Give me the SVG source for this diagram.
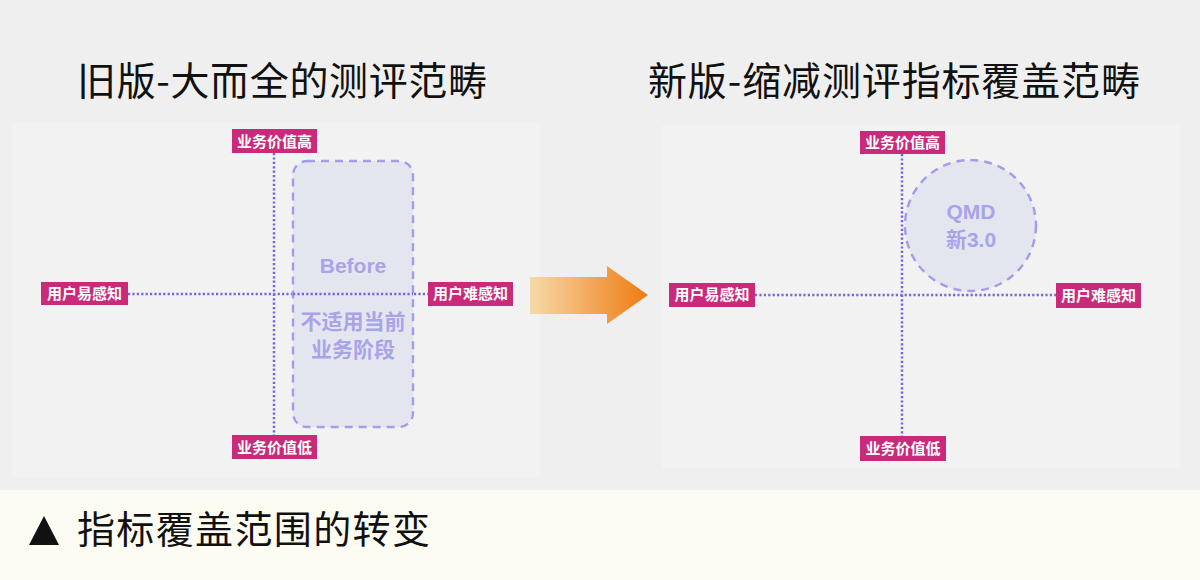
<svg xmlns="http://www.w3.org/2000/svg" width="1200" height="580" viewBox="0 0 1200 580">
<defs>
<style>
.title{font-family:"Noto Sans CJK SC","Noto Sans",sans-serif;font-size:39px;fill:#111;}
.lbl{fill:#c92a7a;}
.lt{font-family:"Noto Sans CJK SC","Noto Sans",sans-serif;font-size:15px;font-weight:700;fill:#fff;text-anchor:middle;}
.axis{stroke:#7f62e0;stroke-width:2.5;stroke-dasharray:2.2 2.2;fill:none;}
.zone{fill:#e3e6ef;stroke:#a49cea;stroke-width:2.4;stroke-dasharray:8 6;}
.zt{font-family:"Liberation Sans","Noto Sans CJK SC",sans-serif;font-size:21px;font-weight:700;fill:#a9a3e8;text-anchor:middle;}
.panel{fill:#f2f2f3;}
</style>
<linearGradient id="ag" x1="0" y1="0" x2="1" y2="0">
<stop offset="0" stop-color="#f6d9a9"/>
<stop offset="1" stop-color="#ef7b10"/>
</linearGradient>
</defs>
<rect width="1200" height="580" fill="#efefef"/>
<rect class="panel" x="12" y="122" width="528" height="356"/>
<rect class="panel" x="662" y="125" width="518" height="343"/>
<rect x="0" y="490" width="1200" height="90" fill="#fdfcf2"/>

<g id="title-old"><text class="title" x="77" y="95" textLength="410" lengthAdjust="spacing">旧版-大而全的测评范畴</text></g>
<g id="title-new"><text class="title" x="648" y="95" textLength="492" lengthAdjust="spacing">新版-缩减测评指标覆盖范畴</text></g>

<g id="connectors">
<line class="axis" x1="274" y1="153" x2="274" y2="435"/>
<line class="axis" x1="128" y1="294" x2="428" y2="294"/>
<line class="axis" x1="902" y1="154" x2="902" y2="436"/>
<line class="axis" x1="755" y1="295" x2="1056" y2="295"/>
</g>

<g id="before-zone">
<rect class="zone" x="293" y="161" width="120" height="266" rx="14"/>
<line class="axis" x1="293" y1="294" x2="413" y2="294"/>
<text class="zt" x="353" y="273">Before</text>
<text class="zt" x="353" y="329">不适用当前</text>
<text class="zt" x="353" y="357">业务阶段</text>
</g>

<g id="old-top"><rect class="lbl" x="232" y="129" width="85" height="24"/><text class="lt" x="274.5" y="146.5">业务价值高</text></g>
<g id="old-bottom"><rect class="lbl" x="232" y="435" width="85" height="24"/><text class="lt" x="274.5" y="452.5">业务价值低</text></g>
<g id="old-left"><rect class="lbl" x="41" y="282" width="87" height="23"/><text class="lt" x="84.5" y="299">用户易感知</text></g>
<g id="old-right"><rect class="lbl" x="428" y="282" width="85" height="24"/><text class="lt" x="470.5" y="299">用户难感知</text></g>

<g id="arrow"><polygon points="530,277 607,277 607,266 648,295 607,324 607,314 530,314" fill="url(#ag)"/></g>

<g id="qmd-zone">
<circle class="zone" cx="970.5" cy="225.5" r="65.5"/>
<text class="zt" x="971" y="219">QMD</text>
<text class="zt" x="971" y="247">新3.0</text>
</g>

<g id="new-top"><rect class="lbl" x="860" y="131" width="85" height="23"/><text class="lt" x="902.5" y="148">业务价值高</text></g>
<g id="new-bottom"><rect class="lbl" x="860" y="436" width="86" height="25"/><text class="lt" x="903" y="453.5">业务价值低</text></g>
<g id="new-left"><rect class="lbl" x="669" y="283" width="86" height="24"/><text class="lt" x="712" y="300">用户易感知</text></g>
<g id="new-right"><rect class="lbl" x="1056" y="283" width="85" height="25"/><text class="lt" x="1098.5" y="300.5">用户难感知</text></g>

<g id="caption">
<polygon points="29,545 44,516 59,545" fill="#111"/>
<text x="77" y="543" font-family="'Noto Sans CJK SC','Noto Sans',sans-serif" font-size="38" fill="#111" textLength="353" lengthAdjust="spacing">指标覆盖范围的转变</text>
</g>
</svg>
